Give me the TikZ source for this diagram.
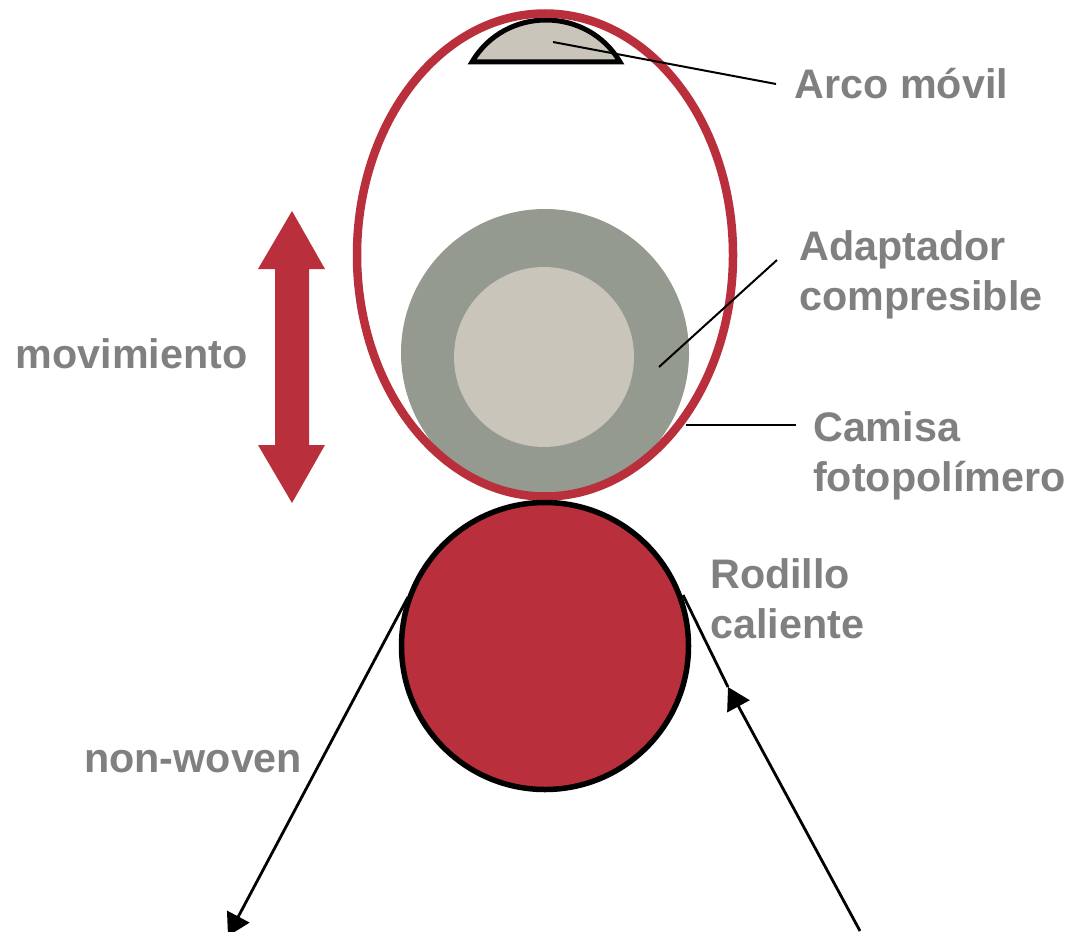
\documentclass[tikz,border=0pt]{standalone}
\usepackage{fontspec}
\setmainfont{Liberation Sans}
\usetikzlibrary{arrows.meta}
\definecolor{rojo}{HTML}{B9303C}
\definecolor{gris}{HTML}{959A91}
\definecolor{beige}{HTML}{C9C5BA}
\definecolor{texto}{HTML}{808080}
\tikzset{
  lbl/.style={anchor=west,inner sep=0pt,align=left,text=texto,font=\fontsize{41.3}{50}\selectfont\bfseries},
  leader/.style={draw=black,line width=2pt},
  flow/.style={draw=black,line width=2.8pt},
  webtip/.style={-{Triangle[length=22pt,width=25pt]}}
}
\begin{document}
\begin{tikzpicture}[x=1pt,y=-1pt]
\useasboundingbox (0,0) rectangle (1070,931);
\clip (0,0) rectangle (1070,931);
% compressible sleeve and core
\node[circle,fill=gris,minimum size=288pt,inner sep=0pt] (adaptador) at (545,353) {};
\node[circle,fill=beige,minimum size=180pt,inner sep=0pt] (nucleo) at (544,357) {};
% moving arc
\draw[line width=5pt,fill=beige,line join=miter] (472,62) .. controls (505,6) and (587,6) .. (620,62) -- cycle;
% sleeve
\draw[draw=rojo,line width=8.5pt] (545,255) ellipse [x radius=188,y radius=241.5];
% hot roller
\node[circle,draw=black,fill=rojo,line width=5.5pt,minimum size=287pt,inner sep=0pt] (rodillo) at (545,646) {};
% movement arrow
\fill[rojo] (292,211) -- (325,269) -- (309,269) -- (309,445) -- (325,445) -- (292,503) -- (258,445) -- (275,445) -- (275,269) -- (258,269) -- cycle;
% labels
\node[lbl] (arco) at (794.5,84) {Arco móvil};
\node[lbl] (adapt) at (799,274.5) {Adaptador\\compresible};
\node[lbl] (camisa) at (813,455.5) {Camisa\\fotopolímero};
\node[lbl] (rod) at (710,599) {Rodillo\\caliente};
\node[lbl] (mov) at (15.5,354) {movimiento};
\node[lbl] (nw) at (84,761.5) {non-woven};
% leaders
\coordinate (a1) at (553,42);
\coordinate (a2) at (776,84);
\coordinate (b1) at (659,367);
\coordinate (b2) at (777,260);
\coordinate (c1) at (686,425);
\coordinate (c2) at (796,425);
\draw[leader] (a1) -- (a2);
\draw[leader] (b1) -- (b2);
\draw[leader] (c1) -- (c2);
% web
\coordinate (w1) at (408,597);
\coordinate (w2) at (228,936);
\coordinate (w3) at (683,595);
\coordinate (w4) at (860,931);
\coordinate (w5) at (728,687);
\draw[flow,webtip] (w1) -- (w2);
\draw[flow] (w5) -- (w3);
\draw[flow,webtip] (w4) -- (w5);
\end{tikzpicture}
\end{document}
